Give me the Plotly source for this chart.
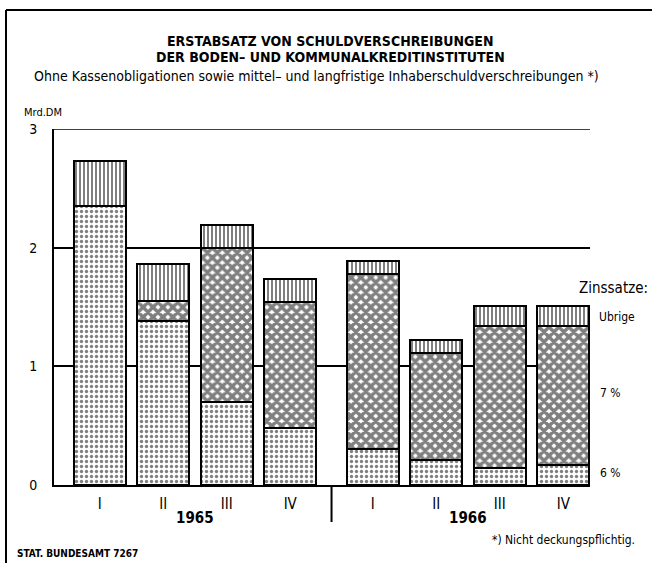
import plotly.graph_objects as go

# ---- data (Mrd. DM) ----
quarters = ["I", "II", "III", "IV", "I", "II", "III", "IV"]
years = ["1965", "1966"]
x_pos = [0, 1, 2, 3, 4.3, 5.3, 6.3, 7.3]
rate6 = [2.35, 1.38, 0.70, 0.48, 0.30, 0.21, 0.14, 0.17]
rate7 = [0.00, 0.17, 1.30, 1.06, 1.48, 0.90, 1.20, 1.17]
other = [0.38, 0.31, 0.19, 0.20, 0.11, 0.11, 0.17, 0.17]
series_names = ["6 %", "7 %", "Ubrige"]

W, H = 652, 563
ML, MR, MT, MB = 54, 62, 129, 78
PW, PH = W - ML - MR, H - MT - MB

def px(x):
    return (x - ML) / PW

def py(y):
    return (H - MB - y) / PH

FONT = "DejaVu Sans Condensed, Liberation Sans Narrow, Arial Narrow, sans-serif"

fig = go.Figure()
patterns = [
    dict(shape=".", size=5, solidity=0.35, fgcolor="black", bgcolor="white"),
    dict(shape="x", size=7, solidity=0.75, fgcolor="black", bgcolor="white"),
    dict(shape="|", size=4, solidity=0.5, fgcolor="black", bgcolor="white"),
]
for name, vals, pat in zip(series_names, [rate6, rate7, other], patterns):
    fig.add_bar(
        x=x_pos, y=vals, name=name, width=0.82,
        marker=dict(color="white", pattern=pat, line=dict(color="black", width=2)),
        showlegend=False,
    )

fig.update_layout(
    barmode="stack",
    width=W, height=H,
    margin=dict(l=ML, r=MR, t=MT, b=MB),
    paper_bgcolor="white", plot_bgcolor="white",
    font=dict(family=FONT, color="black", size=13),
)
fig.update_xaxes(
    range=[-0.72, 7.72], tickvals=x_pos, ticktext=quarters,
    showgrid=False, zeroline=False, showline=True, linecolor="black", linewidth=2,
    ticks="", tickfont=dict(size=15), ticklabelstandoff=4,
)
fig.update_yaxes(
    range=[0, 3], tickvals=[0, 1, 2, 3], showgrid=True, gridcolor="black", gridwidth=1.5,
    zeroline=False, showline=True, linecolor="black", linewidth=2,
    ticks="", tickfont=dict(size=14), ticklabelstandoff=12,
)

ann = []
def text(x, y, s, size=13, anchor="center", bold=False, xref="paper"):
    ann.append(dict(x=x, y=y, xref=xref, yref="paper", text=f"<b>{s}</b>" if bold else s,
                    showarrow=False, xanchor=anchor, yanchor="middle",
                    font=dict(size=size, family=FONT)))

text(px(330), py(41), "ERSTABSATZ VON SCHULDVERSCHREIBUNGEN", 14, bold=True)
text(px(330), py(57), "DER BODEN– UND KOMMUNALKREDITINSTITUTEN", 14, bold=True)
text(px(316), py(76), "Ohne Kassenobligationen sowie mittel– und langfristige Inhaberschuldverschreibungen *)", 14)
text(px(22), py(113), "Mrd.DM", 11, anchor="left")
text(px(577), py(288), "Zinssatze:", 15, anchor="left")
text(px(597), py(317), "Ubrige", 12, anchor="left")
text(px(598), py(393), "7 %", 12, anchor="left")
text(px(598), py(473), "6 %", 12, anchor="left")
text((x_pos[0] + x_pos[3]) / 2, py(518), years[0], 15, bold=True, xref="x")
text((x_pos[4] + x_pos[7]) / 2, py(518), years[1], 15, bold=True, xref="x")
text(px(637), py(540), "*) Nicht deckungspflichtig.", 12, anchor="right")
text(px(15), py(553), "STAT. BUNDESAMT 7267", 10, anchor="left", bold=True)
fig.update_layout(annotations=ann)

sep = (x_pos[3] + x_pos[4]) / 2
fig.add_shape(type="line", xref="x", yref="paper", x0=sep, x1=sep, y0=py(486), y1=py(522),
              line=dict(color="black", width=2))
# top gridline at 3
fig.add_shape(type="line", xref="paper", yref="y", x0=0, x1=1, y0=3, y1=3,
              line=dict(color="black", width=1.5), layer="below")
# frame
fig.add_shape(type="line", xref="paper", yref="paper", x0=px(6), x1=px(6), y0=py(10), y1=py(563),
              line=dict(color="black", width=2))
fig.add_shape(type="line", xref="paper", yref="paper", x0=px(6), x1=px(652), y0=py(10), y1=py(10),
              line=dict(color="black", width=2))

fig.write_html("out.html", config={"displayModeBar": False},
               post_script="document.body.style.margin='0';document.body.style.overflow='hidden';")
